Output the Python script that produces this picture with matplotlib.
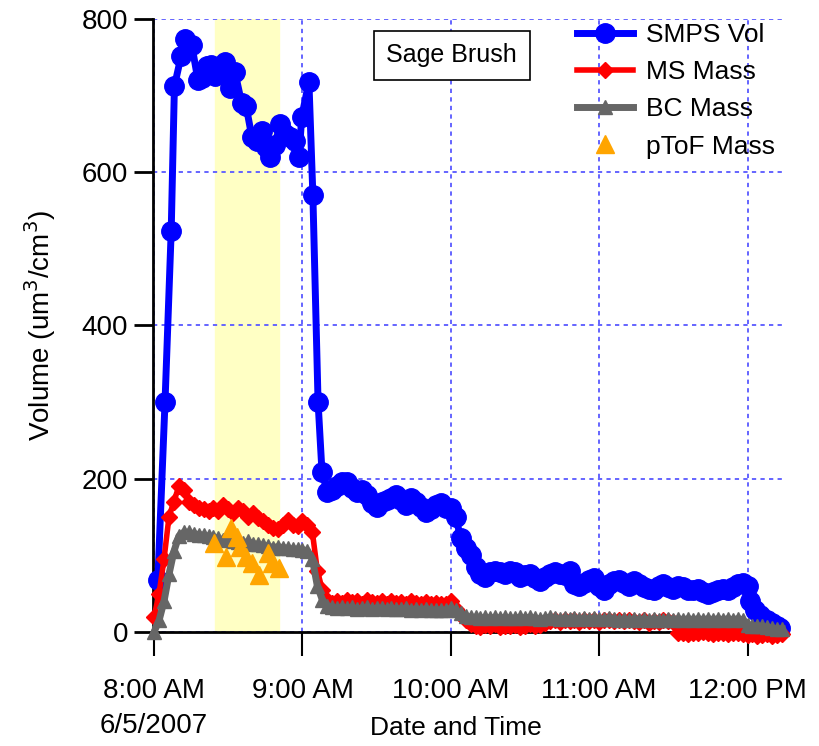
import numpy as np
import pandas as pd
import matplotlib
matplotlib.use("Agg")
import matplotlib.pyplot as plt

plt.rcParams['font.family'] = ['Liberation Sans', 'DejaVu Sans']

start = pd.Timestamp("2007-06-05 08:00")

# SMPS volume (minutes after 8:00, um3/cm3)
smps_min = [1.5, 4.4, 6.9, 8.2, 10.9, 12.5, 15.2, 17.7, 19.5, 21.3, 23.0, 24.6, 26.5,
            28.7, 30.7, 32.7, 35.4, 37.2, 39.5, 41.5, 43.5, 45.2, 46.9, 48.8, 50.9,
            52.8, 54.9, 56.8, 58.6, 59.7, 62.6, 64.2, 66.3, 67.9,
            70, 72, 74, 76, 78, 80, 82, 84, 86, 88, 90, 92, 94, 96, 98, 100, 102,
            104, 106, 108, 110, 112, 114, 116, 118, 120, 122, 124, 126, 128, 130,
            132, 134, 136, 138, 140, 142, 144, 146, 148, 150, 152, 154, 156, 158,
            160, 162, 164, 166, 168, 170, 172, 174, 176, 178, 180, 182, 184, 186,
            188, 190, 192, 194, 196, 198, 200, 202, 204, 206, 208, 210, 212, 214,
            216, 218, 220, 222, 224, 226, 228, 230, 232, 234, 236, 238, 240, 241,
            243, 245, 248, 250, 252, 253]
smps_vol = [68, 300, 523, 712, 751, 773, 766, 720, 722, 738, 740, 725, 730,
            744, 710, 730, 690, 686, 646, 640, 653, 632, 620, 635, 662,
            650, 645, 640, 620, 672, 718, 570, 300, 208,
            183, 185, 190, 195, 195, 188, 183, 185, 178, 168, 163, 170, 172, 175, 178, 172, 165,
            175, 170, 163, 157, 160, 165, 168, 162, 162, 150, 122, 110, 100, 85,
            76, 72, 78, 80, 78, 76, 80, 78, 72, 74, 76, 70, 66, 72,
            75, 78, 76, 74, 80, 62, 60, 64, 68, 70, 60, 55, 62, 66,
            68, 64, 60, 66, 62, 58, 56, 54, 60, 62, 58, 56, 60, 58,
            55, 54, 56, 52, 50, 52, 54, 56, 54, 58, 62, 64, 60, 40,
            28, 22, 16, 12, 8, 5]

# MS and BC mass, one value every 2 minutes from 8:00 (16 per row = 32 min)
mass_min = list(range(0, 256, 2))
ms_mass = [20, 50, 95, 150, 170, 190, 185, 170, 165, 162, 160, 158, 162, 158, 165, 160,
           155, 162, 158, 150, 155, 148, 144, 140, 136, 134, 140, 146, 140, 138, 145, 140,
           130, 80, 55, 42, 38, 40, 38, 41, 39, 40, 37, 41, 39, 38, 40, 37,
           40, 38, 39, 37, 40, 38, 36, 39, 37, 38, 36, 37, 40, 30, 22, 15,
           10, 8, 6, 9, 7, 10, 6, 8, 7, 9, 6, 8, 10, 7, 9, 12,
           14, 15, 13, 16, 14, 15, 13, 16, 14, 15, 13, 16, 15, 14, 15, 14,
           15, 14, 13, 15, 12, 14, 13, 15, 14, 13, -1, -2, -3, -1, -2, 0,
           -2, -3, -1, -2, -3, -2, -1, -3, -4, -3, -5, -4, -3, -5, -4, -3]
bc_mass = [0, 15, 40, 75, 105, 125, 130, 130, 128, 127, 126, 125, 124, 122, 120, 121,
           118, 117, 116, 118, 115, 114, 113, 112, 110, 111, 110, 109, 108, 108, 107, 106,
           95, 60, 42, 34, 32, 31, 32, 31, 32, 30, 31, 32, 30, 31, 31, 30,
           31, 30, 30, 31, 29, 30, 29, 30, 29, 28, 29, 28, 31, 28, 24, 21,
           19, 19, 18, 19, 18, 19, 18, 19, 18, 18, 19, 18, 19, 18, 17, 18,
           19, 18, 17, 18, 17, 18, 17, 18, 17, 18, 17, 17, 18, 17, 16, 17,
           16, 17, 16, 17, 16, 17, 16, 16, 17, 16, 17, 16, 17, 16, 17, 16,
           17, 16, 17, 16, 17, 16, 17, 16, 9, 8, 8, 7, 6, 5, 4, 4]

# pToF mass
ptof_min = [24.2, 29.1, 31.1, 33.5, 34.7, 37.2, 39.6, 42.4, 46.1, 47.7, 50.5]
ptof_mass = [116, 98, 135, 124, 111, 98, 90, 74, 103, 90, 83]

tick_hours = ["08:00", "09:00", "10:00", "11:00", "12:00"]
tick_labels = ["8:00 AM\n6/5/2007", "9:00 AM", "10:00 AM", "11:00 AM", "12:00 PM"]


def to_time(mins):
    return start + pd.to_timedelta(np.asarray(mins, dtype=float), unit="min")


fig = plt.figure(figsize=(8.19, 7.46), dpi=100)
ax = fig.add_axes([0.187, 0.153, 0.771, 0.822])

# highlighted period
ax.axvspan(to_time([24.6])[0], to_time([50.5])[0], color='#FFFFC4', zorder=0)

ax.plot(to_time(smps_min), smps_vol, '-o', color='#0000FF', lw=5, ms=14,
        label='SMPS Vol', clip_on=False, zorder=3)
ax.plot(to_time(mass_min), ms_mass, '-D', color='#FF0000', lw=4, ms=8,
        label='MS Mass', clip_on=False, zorder=4)
ax.plot(to_time(mass_min), bc_mass, '-^', color='#666666', lw=5, ms=10,
        label='BC Mass', clip_on=False, zorder=5)
ax.plot(to_time(ptof_min), ptof_mass, '^', color='#FFA500', ms=13,
        label='pToF Mass', lw=0, clip_on=False, zorder=6)

ax.set_xlim(to_time([-0.4])[0], to_time([255])[0])
ax.set_ylim(0, 800)
ax.set_yticks([0, 200, 400, 600, 800])
ticks = [pd.Timestamp("2007-06-05 " + h) for h in tick_hours]
ax.set_xticks(ticks)
ax.set_xticklabels(tick_labels, linespacing=1.45)

ax.grid(True, color='#6464FF', linestyle=(0, (2.2, 2.2)), linewidth=1.4)
ax.set_axisbelow(True)
for s in ['top', 'right']:
    ax.spines[s].set_visible(False)
for s in ['left', 'bottom']:
    ax.spines[s].set_linewidth(2)
ax.tick_params(axis='x', direction='out', length=17, width=1.5, labelsize=20, pad=16)
ax.tick_params(axis='y', direction='out', length=14, width=2, labelsize=20, pad=4)

ax.set_ylabel('Volume (um$^3$/cm$^3$)', fontsize=20)
ax.yaxis.set_label_coords(-0.15, 0.5)
ax.set_xlabel('Date and Time', fontsize=19)
ax.xaxis.set_label_coords(0.48, -0.137)

ax.text(0.473, 0.94, 'Sage Brush', transform=ax.transAxes, fontsize=18,
        ha='center', va='center',
        bbox=dict(boxstyle='square,pad=0.5', fc='white', ec='black', lw=1.2))

leg = ax.legend(loc='upper left', bbox_to_anchor=(0.655, 1.01), frameon=False,
                fontsize=19, numpoints=1, handlelength=2.1, handletextpad=0.5,
                labelspacing=0.5, borderaxespad=0)

fig.savefig('out.png', dpi=100)
